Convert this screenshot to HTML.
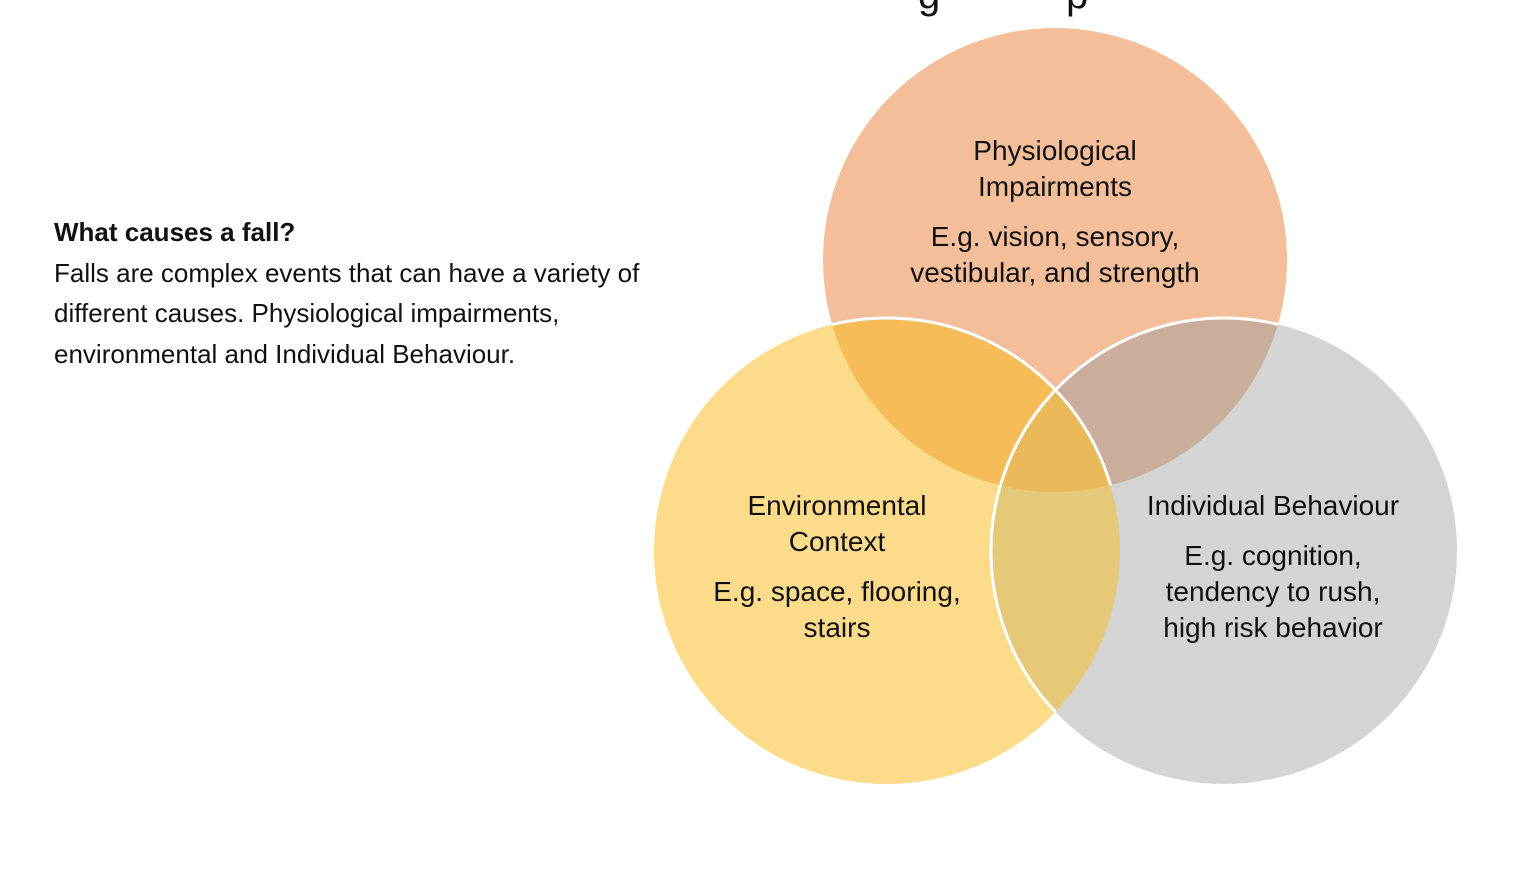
<!DOCTYPE html>
<html><head><meta charset="utf-8"><style>
html,body{margin:0;padding:0;background:#fff;}
body{width:1526px;height:870px;position:relative;overflow:hidden;font-family:"Liberation Sans",sans-serif;}
.p{position:absolute;left:54px;top:212px;font-size:26px;line-height:40.5px;color:#111;white-space:nowrap;}
svg{position:absolute;left:0;top:0;}
</style></head><body>
<svg width="1526" height="870" viewBox="0 0 1526 870">
<defs>
<clipPath id="cT"><circle cx="1055" cy="260" r="232"/></clipPath>
<clipPath id="cL"><circle cx="887" cy="551" r="233"/></clipPath>
<clipPath id="cR"><circle cx="1224" cy="551" r="233"/></clipPath>
</defs>
<text x="918" y="8" font-size="40" fill="#111">g</text>
<text x="1066" y="8" font-size="40" fill="#111">p</text>
<circle cx="1055" cy="260" r="232" fill="#F4BE9A"/>
<circle cx="887" cy="551" r="233" fill="#FCDB8A"/>
<circle cx="1224" cy="551" r="233" fill="#D4D4D4"/>
<g clip-path="url(#cT)"><circle cx="887" cy="551" r="233" fill="#F6BC58"/><circle cx="1224" cy="551" r="233" fill="#C9AE9C"/></g>
<g clip-path="url(#cL)"><circle cx="1224" cy="551" r="233" fill="#E6C879"/></g>
<g clip-path="url(#cT)"><g clip-path="url(#cL)"><circle cx="1224" cy="551" r="233" fill="#E9B95A"/></g></g>
<g fill="none" stroke="#fff" stroke-width="3">
<circle cx="887" cy="551" r="233" clip-path="url(#cT)"/>
<circle cx="1224" cy="551" r="233" clip-path="url(#cT)"/>
<circle cx="1224" cy="551" r="233" clip-path="url(#cL)"/>
</g>
<g font-size="28" fill="#111" text-anchor="middle">
<text x="1055" y="160">Physiological</text>
<text x="1055" y="196">Impairments</text>
<text x="1055" y="246">E.g. vision, sensory,</text>
<text x="1055" y="282">vestibular, and strength</text>
<text x="837" y="515">Environmental</text>
<text x="837" y="551">Context</text>
<text x="837" y="601">E.g. space, flooring,</text>
<text x="837" y="637">stairs</text>
<text x="1273" y="515">Individual Behaviour</text>
<text x="1273" y="565">E.g. cognition,</text>
<text x="1273" y="601">tendency to rush,</text>
<text x="1273" y="637">high risk behavior</text>
</g>
</svg>
<div class="p"><b>What causes a fall?</b><br>Falls are complex events that can have a variety of<br>different causes. Physiological impairments,<br>environmental and Individual Behaviour.</div>
</body></html>
